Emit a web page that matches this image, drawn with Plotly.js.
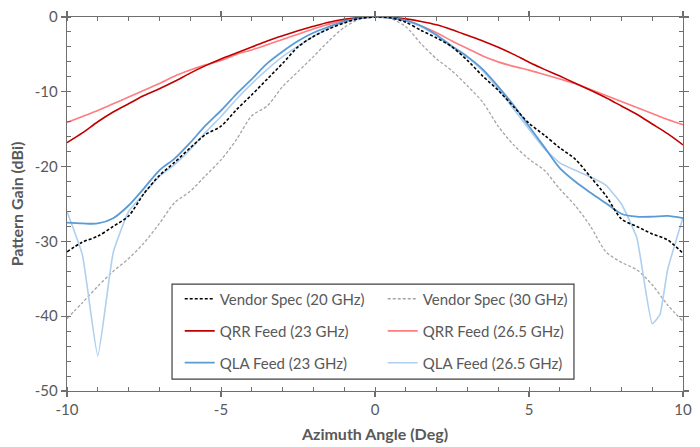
<!DOCTYPE html>
<html>
<head>
<meta charset="utf-8">
<script src="https://cdn.plot.ly/plotly-3.0.1.min.js"></script>
<style>html,body{margin:0;padding:0;background:#fff;}#chart{width:700px;height:447px;}</style>
</head>
<body>
<div id="chart"></div>
<script>
const angles = [-10,-9.5,-9,-8.5,-8,-7.5,-7,-6.5,-6,-5.5,-5,-4.5,-4,-3.5,-3,-2.5,-2,-1.5,-1,-0.5,0,0.5,1,1.5,2,2.5,3,3.5,4,4.5,5,5.5,6,6.5,7,7.5,8,8.5,9,9.5,10];

const vendor20 = [-31.4,-30.1,-29.3,-28.0,-26.6,-23.6,-21.2,-19.4,-17.5,-15.7,-14.6,-12.4,-10.4,-8.3,-6.2,-4.0,-2.6,-1.6,-0.8,-0.2,0,-0.1,-0.7,-1.8,-2.8,-4.0,-5.8,-7.9,-9.8,-12.0,-14.2,-15.8,-17.5,-19.0,-21.4,-23.9,-27.0,-28.0,-29.0,-29.8,-31.6];
const vendor30 = [-40.3,-38.2,-36.0,-34.0,-32.3,-30.2,-27.6,-24.8,-23.3,-21.2,-19.1,-16.4,-13.2,-11.9,-9.3,-7.3,-5.3,-3.2,-1.4,-0.3,0,-0.2,-1.3,-3.6,-5.6,-7.2,-9.2,-11.4,-14.6,-17.1,-19.0,-20.5,-23.0,-25.2,-28.0,-31.4,-32.8,-33.8,-35.8,-38.5,-40.7];
const qrr23 = [-16.8,-15.5,-14.0,-12.7,-11.6,-10.5,-9.6,-8.6,-7.5,-6.5,-5.6,-4.8,-4.0,-3.2,-2.5,-1.85,-1.25,-0.7,-0.3,-0.08,0,-0.05,-0.25,-0.6,-1.05,-1.7,-2.45,-3.2,-4.05,-5.0,-6.05,-7.0,-7.9,-8.85,-9.8,-10.8,-11.9,-13.0,-14.3,-15.6,-17.1];
const qrr265 = [-14.1,-13.3,-12.5,-11.6,-10.7,-9.8,-8.9,-7.9,-7.1,-6.4,-5.8,-5.0,-4.4,-3.7,-3.0,-2.3,-1.6,-0.95,-0.45,-0.12,0,-0.1,-0.45,-1.2,-2.1,-3.2,-4.2,-5.2,-6.0,-6.6,-7.1,-7.7,-8.3,-8.9,-9.7,-10.5,-11.3,-12.1,-12.9,-13.7,-14.4];
const qla23 = [-27.5,-27.6,-27.6,-26.9,-25.2,-22.9,-20.5,-18.9,-16.8,-14.5,-12.5,-10.3,-8.3,-6.2,-4.6,-3.2,-2.1,-1.3,-0.6,-0.15,0,-0.1,-0.45,-1.2,-2.4,-3.9,-5.3,-7.0,-9.3,-11.8,-14.6,-17.4,-20.2,-22.0,-23.5,-24.9,-26.3,-26.7,-26.7,-26.6,-26.9];
const qla265Angles = [-10,-9.5,-9,-8.5,-8,-7.5,-7,-6.5,-6,-5.5,-5,-4.5,-4,-3.5,-3,-2.5,-2,-1.5,-1,-0.5,0,0.5,1,1.5,2,2.5,3,3.5,4,4.5,5,5.5,6,6.5,7,7.5,8,8.5,9,9.25,9.5,10];
const qla265 = [-26.0,-31.8,-45.3,-31.5,-26.0,-23.6,-21.3,-19.7,-17.7,-15.4,-13.3,-11.0,-8.9,-7.0,-5.3,-3.9,-2.6,-1.5,-0.7,-0.2,0,-0.1,-0.5,-1.3,-2.5,-4.0,-5.4,-7.2,-9.6,-12.3,-15.0,-17.6,-19.5,-20.5,-21.4,-22.5,-25.0,-29.5,-41.0,-39.8,-33.8,-26.8];

const names = ['Vendor Spec (20 GHz)','Vendor Spec (30 GHz)','QRR Feed (23 GHz)','QRR Feed (26.5 GHz)','QLA Feed (23 GHz)','QLA Feed (26.5 GHz)'];
const xTickVals = [-10,-5,0,5,10];
const yTickVals = [-50,-40,-30,-20,-10,0];

const FONT = 'Lato, "Open Sans", sans-serif';
const GRAY = '#595959';

function tr(x, y, name, color, width, dash, legend, smoothing) {
  return {x: x, y: y, name: name, type: 'scatter', mode: 'lines',
    line: {color: color, width: width, dash: dash, shape: 'spline', smoothing: smoothing},
    legend: legend, hoverinfo: 'skip'};
}

const data = [
  tr(angles, vendor30, names[1], '#A5A5A5', 1.3, '3px,2px', 'legend', 0.8),
  tr(angles, qrr265, names[3], '#FF7C80', 1.6, 'solid', 'legend2', 0.8),
  tr(qla265Angles, qla265, names[5], '#AFCFEE', 1.6, 'solid', 'legend3', 0.4),
  tr(angles, qrr23, names[2], '#C00000', 1.6, 'solid', 'legend2', 0.8),
  tr(angles, qla23, names[4], '#5B9BD5', 1.8, 'solid', 'legend3', 0.8),
  tr(angles, vendor20, names[0], '#000000', 1.6, '3px,2px', 'legend', 0.8)
];
data.forEach(d => { d.legendrank = names.indexOf(d.name) + 1; });

const legendBase = (y) => ({
  orientation: 'h', x: 0.183, xanchor: 'left', y: y, yanchor: 'middle',
  entrywidth: 158, entrywidthmode: 'pixels', traceorder: 'normal',
  bgcolor: 'rgba(0,0,0,0)', borderwidth: 0,
  font: {family: FONT, size: 15, color: GRAY}
});

const axisCommon = {
  showgrid: false, zeroline: false, showline: true, linecolor: '#6F6F6F', linewidth: 1.3,
  mirror: 'allticks', ticks: 'outside', ticklen: 5, tickcolor: '#6F6F6F', tickwidth: 1.3,
  tickfont: {family: FONT, size: 15, color: GRAY}
};

const layout = {
  width: 700, height: 447,
  margin: {l: 67, r: 17, t: 17, b: 56},
  paper_bgcolor: '#fff', plot_bgcolor: '#fff',
  showlegend: true,
  xaxis: Object.assign({}, axisCommon, {
    range: [-10, 10], tickvals: xTickVals, ticktext: xTickVals.map(String),
    minor: {dtick: 1, ticks: 'inside', ticklen: 4, tickcolor: '#6F6F6F', tickwidth: 1},
    title: {text: '<b>Azimuth Angle (Deg)</b>', font: {family: FONT, size: 16, color: GRAY}, standoff: 11}
  }),
  yaxis: Object.assign({}, axisCommon, {
    range: [-50, 0], tickvals: yTickVals, ticktext: yTickVals.map(String),
    minor: {dtick: 2, ticks: 'inside', ticklen: 4, tickcolor: '#6F6F6F', tickwidth: 1},
    title: {text: '<b>Pattern Gain (dBi)</b>', font: {family: FONT, size: 16, color: GRAY}, standoff: 7}
  }),
  legend: legendBase(0.246),
  legend2: legendBase(0.160),
  legend3: legendBase(0.075),
  shapes: [{type: 'rect', xref: 'paper', yref: 'paper', x0: 0.1705, x1: 0.823, y0: 0.032, y1: 0.286,
    line: {color: '#404040', width: 1.2}, fillcolor: '#fff', layer: 'above'}]
};

Plotly.newPlot('chart', data, layout, {displayModeBar: false, staticPlot: true});
</script>
</body>
</html>
